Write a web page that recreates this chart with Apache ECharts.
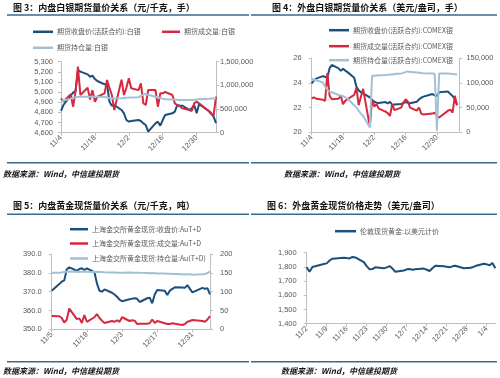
<!DOCTYPE html>
<html><head><meta charset="utf-8">
<script src="https://cdn.jsdelivr.net/npm/echarts@6/dist/echarts.min.js"></script>
<style>html,body{margin:0;padding:0;background:#fff}#c{width:500px;height:378px}</style>
</head><body><div id="c"></div>
<script>
// ---------- DATA ----------
// Fig 3: SHFE silver (内盘白银)
const shfeDates = ['11/4','11/5','11/8','11/9','11/10','11/11','11/12','11/15','11/16','11/17','11/18','11/19','11/22','11/23','11/24','11/25','11/26','11/29','11/30','12/1','12/2','12/3','12/6','12/7','12/8','12/9','12/10','12/13','12/14','12/15','12/16','12/17','12/20','12/21','12/22','12/23','12/24','12/27','12/28','12/29','12/30','12/31','1/4','1/5','1/6','1/7'];
const shfeClose = [4814,4873,4965,4995,5011,5218,5202,5175,5152,5162,5129,5110,5077,5077,4906,4866,4873,4824,4791,4725,4709,4715,4725,4715,4692,4676,4610,4692,4709,4669,4725,4774,4791,4807,4873,4866,4866,4824,4840,4873,4791,4880,4814,4791,4758,4695];
const shfeVolume = [726000,655000,811000,549000,867000,1395000,796000,950000,700000,900000,655000,760000,831000,1113000,950000,796000,480000,1120000,796000,950000,1150000,938000,900000,1043000,621000,585000,902000,902000,549000,831000,831000,860000,796000,620000,585000,560000,514000,480000,459000,621000,655000,621000,459000,400000,359000,760000];
const shfeOI = [655000,680000,720000,735000,748000,755000,760000,760000,758000,755000,760000,760000,752000,745000,735000,727000,725000,730000,735000,740000,742000,745000,748000,780000,805000,818000,800000,760000,745000,735000,720000,705000,700000,698000,695000,692000,690000,690000,692000,695000,700000,705000,715000,720000,722000,726000];
const shfeTicks = ['11/4','11/18','12/2','12/16','12/30'];

// Fig 4: COMEX silver (外盘白银)
const comexDates = ['11/4','11/5','11/6','11/9','11/10','11/11','11/12','11/13','11/16','11/17','11/18','11/19','11/20','11/23','11/24','11/25','11/26','11/27','11/30','12/1','12/2','12/3','12/4','12/7','12/8','12/9','12/10','12/11','12/14','12/15','12/16','12/17','12/18','12/21','12/22','12/23','12/24','12/28','12/29','12/30','12/31','1/4','1/5','1/6','1/7','1/8'];
const comexClose = [23.97,24.2,24.35,24.55,24.5,24.45,25.2,25.46,25.19,24.98,25.15,25.0,24.88,24.42,23.7,23.4,23.25,23.15,22.84,22.62,22.48,22.4,22.37,22.45,22.35,22.48,22.21,22.25,22.3,22.38,22.45,22.4,22.35,22.48,22.67,22.8,22.89,23.1,23.0,22.95,23.25,23.3,23.1,22.95,22.7,22.2];
const comexVolume = [68700,70800,68000,65800,63700,120000,74200,67000,68000,74000,57000,63700,67000,76000,90000,55000,72000,88000,11000,67000,52000,57000,48000,42000,39000,33000,57000,45000,50000,60000,67000,62000,50000,44000,50000,38000,36000,38000,40000,32000,30000,44000,46000,40000,74000,55000];
const comexOI = [108900,106500,105400,101000,93000,86000,82500,81200,75600,74500,73000,71000,68000,55000,50000,44000,38000,33000,10000,114600,114500,115000,115500,116000,116500,117000,117300,118000,119400,120500,122000,123500,122000,121000,120500,120000,119800,119400,118500,3000,119400,119000,118500,118000,117800,117000];
const comexTicks = ['11/4','11/18','12/2','12/16','12/30'];

// Fig 5: SGE gold Au(T+D) (内盘黄金现货)
const sgeDates = ['11/5','11/8','11/9','11/10','11/11','11/12','11/15','11/16','11/17','11/18','11/19','11/22','11/23','11/24','11/25','11/26','11/29','11/30','12/1','12/2','12/3','12/6','12/7','12/8','12/9','12/10','12/13','12/14','12/15','12/16','12/17','12/20','12/21','12/22','12/23','12/24','12/27','12/28','12/29','12/30','12/31','1/4','1/5','1/6','1/7'];
const sgeClose = [370.5,374,375.3,376,381.9,382.9,381.1,382,382.4,381.5,382.4,380.4,374.4,370.5,370,371.2,369.4,368.5,367.3,365.8,364.9,366,366.3,366.5,366.2,364.5,366.5,366.8,363.8,368.5,370.9,370.5,368.2,370.5,371.5,372.3,372.2,372,373.5,371.5,369.6,372,371.5,371.8,368.5];
const sgeVolume = [35.3,34.8,30,18,26,55,27,29,17,38,20,32,40.6,30,23,16.7,22,20,24,20,32,22,24,23,14,15,15,16,26,17,22,16,14,14,16,15,11.4,14,20,22,24.7,22,20,26,35];
const sgeOI = [150,150.5,151,152,153,153.5,153,152.5,153,153.5,153,152,153,152.5,152,151.5,151,151,150.5,150,150.5,151,150.5,150,150.5,150,149.5,149,149.5,149,148.5,148,147.5,147.5,147,147,146,145.5,146.5,146,145,146.5,147,149.5,154];
const sgeTicks = ['11/5','11/19','12/3','12/17','12/31'];

// Fig 6: London spot gold (外盘黄金现货)
const lbmaDates = ['11/2','11/3','11/4','11/5','11/8','11/9','11/10','11/11','11/12','11/15','11/16','11/17','11/18','11/19','11/22','11/23','11/24','11/25','11/26','11/29','11/30','12/1','12/2','12/3','12/6','12/7','12/8','12/9','12/10','12/13','12/14','12/15','12/16','12/17','12/20','12/21','12/22','12/23','12/24','12/27','12/28','12/29','12/30','12/31','1/3','1/4','1/5','1/6','1/7'];
const lbmaGold = [1797,1766,1799,1804,1820,1825,1845,1858,1860,1865,1862,1860,1870,1867,1834,1806,1783,1785,1797,1790,1797,1806,1788,1766,1775,1783,1785,1780,1783,1788,1780,1771,1790,1808,1804,1801,1797,1804,1808,1790,1792,1792,1797,1806,1822,1818,1812,1828,1790];
const lbmaTicks = ['11/2','11/9','11/16','11/23','11/30','12/7','12/14','12/21','12/28','1/4'];

// ---------- HELPERS ----------
const NUMF = '"Liberation Sans", Arial, "Noto Sans CJK SC", sans-serif';
const CJK = '"Noto Sans CJK SC", sans-serif';
const C_DARK = '#1b4f7c', C_RED = '#d8283f', C_LIGHT = '#a2c1d6';
const AX = '#bfbfbf', LC = '#595959';
function parseMD(s){const p=s.split('/').map(Number);const y=p[0]>=10?2021:2022;return Date.UTC(y,p[0]-1,p[1]);}
function pairs(dates,start,vals){const b=parseMD(start);return vals.map((v,i)=>[Math.round((parseMD(dates[i])-b)/86400000),v]);}
const fmtK = v => v.toLocaleString('en-US');

function xAxis(gi,max,step,ticks){
  return {type:'value',gridIndex:gi,min:0,max:max,interval:step,
    axisLine:{show:true,lineStyle:{color:AX,width:1}},
    axisTick:{show:true,length:3,lineStyle:{color:AX}},
    splitLine:{show:false},
    axisLabel:{rotate:45,fontSize:7.5,color:LC,fontFamily:NUMF,margin:4,showMaxLabel:false,
      formatter:v=>(v%step===0&&ticks[v/step]!==undefined)?ticks[v/step]:''}};
}
function yAxis(gi,pos,min,max,step,fmt,margin){
  return {type:'value',gridIndex:gi,position:pos,min:min,max:max,interval:step,
    axisLine:{show:true,lineStyle:{color:AX,width:1}},
    axisTick:{show:true,length:3,lineStyle:{color:AX}},
    splitLine:{show:false},
    axisLabel:{fontSize:7.5,color:LC,fontFamily:NUMF,margin:margin,formatter:fmt}};
}
function line(name,xi,yi,data,color,w){
  return {name,type:'line',xAxisIndex:xi,yAxisIndex:yi,data,symbol:'none',showSymbol:false,
    color:color,lineStyle:{color:color,width:w||2},animation:false};
}
function leg(name,left,cy,w){
  return {data:[name],left:left,top:cy-5,padding:0,itemWidth:w||20,itemHeight:2.5,icon:'rect',
    selectedMode:false,textStyle:{fontSize:7,color:LC,fontFamily:CJK,padding:[0,0,0,-1]}};
}
function txt(t,x,y,font,fill){return {type:'text',x:x,y:y,style:{text:t,font:font,fill:fill||'#111',verticalAlign:'middle',align:'left'}};}
function hl(x1,x2,y){return {type:'line',shape:{x1:x1,y1:y,x2:x2,y2:y},style:{stroke:'#3a6a8c',lineWidth:1.5}};}

const TF = 'bold 9px "Noto Sans CJK SC", sans-serif';
const SF = 'italic bold 8px "Noto Sans CJK SC", sans-serif';

const chart = echarts.init(document.getElementById('c'),null,{renderer:'canvas'});
chart.setOption({
  animation:false,
  backgroundColor:'#fff',
  grid:[
    {left:61,top:61.7,width:155,height:71},
    {left:311.7,top:58.3,width:147.6,height:74},
    {left:51.7,top:254,width:158.3,height:75.3},
    {left:306.7,top:252.7,width:188.6,height:71}
  ],
  xAxis:[
    xAxis(0,64,14,shfeTicks),
    xAxis(1,66,14,comexTicks),
    xAxis(2,63,14,sgeTicks),
    xAxis(3,66,7,lbmaTicks)
  ],
  yAxis:[
    yAxis(0,'left',4600,5300,100,fmtK,8),
    yAxis(0,'right',0,1500000,500000,fmtK,4),
    yAxis(1,'left',20,26,2,v=>String(v),10),
    yAxis(1,'right',0,150000,50000,fmtK,7),
    yAxis(2,'left',350,390,10,v=>v.toFixed(1),10),
    yAxis(2,'right',0,200,50,v=>String(v),10),
    yAxis(3,'left',1400,1900,100,fmtK,10)
  ],
  legend:[
    leg('期货收盘价(活跃合约):白银',33,33.3),
    leg('期货成交量:白银',162,33.3,18),
    leg('期货持仓量:白银',33,49.3),
    leg('期货收盘价(活跃合约):COMEX银',329,31.7),
    leg('期货成交量(活跃合约):COMEX银',329,47.7),
    leg('期货持仓量(活跃合约):COMEX银',329,61.7),
    leg('上海金交所黄金现货:收盘价:AuT+D',70,230.7,18),
    leg('上海金交所黄金现货:成交量:AuT+D',70,245,18),
    leg('上海金交所黄金现货:持仓量:Au(T+D)',70,260,18),
    leg('伦敦现货黄金:以美元计价',335,232.7,21)
  ],
  series:[
    line('期货收盘价(活跃合约):白银',0,0,pairs(shfeDates,'11/4',shfeClose),C_DARK),
    line('期货成交量:白银',0,1,pairs(shfeDates,'11/4',shfeVolume),C_RED),
    line('期货持仓量:白银',0,1,pairs(shfeDates,'11/4',shfeOI),C_LIGHT),
    line('期货收盘价(活跃合约):COMEX银',1,2,pairs(comexDates,'11/4',comexClose),C_DARK),
    line('期货成交量(活跃合约):COMEX银',1,3,pairs(comexDates,'11/4',comexVolume),C_RED),
    line('期货持仓量(活跃合约):COMEX银',1,3,pairs(comexDates,'11/4',comexOI),C_LIGHT),
    line('上海金交所黄金现货:收盘价:AuT+D',2,4,pairs(sgeDates,'11/5',sgeClose),C_DARK),
    line('上海金交所黄金现货:成交量:AuT+D',2,5,pairs(sgeDates,'11/5',sgeVolume),C_RED),
    line('上海金交所黄金现货:持仓量:Au(T+D)',2,5,pairs(sgeDates,'11/5',sgeOI),C_LIGHT),
    line('伦敦现货黄金:以美元计价',3,6,pairs(lbmaDates,'11/2',lbmaGold),C_DARK)
  ],
  graphic:[
    txt('图 3：内盘白银期货量价关系（元/千克，手）',13,7.5,TF),
    txt('图 4：外盘白银期货量价关系（美元/盎司，手）',272,7.5,TF),
    txt('图 5：内盘黄金现货量价关系（元/千克，吨）',13,206,TF),
    txt('图 6：外盘黄金现货价格走势（美元/盎司）',267,205.5,TF),
    hl(7,249,15), hl(251,497,15),
    hl(7,249,214.3), hl(251,497,214.3),
    hl(7,249,162.7), hl(251,497,162.7),
    hl(7,249,361.7), hl(251,497,361.7),
    txt('数据来源：Wind，中信建投期货',3,173.5,SF),
    txt('数据来源：Wind，中信建投期货',284,173.5,SF),
    txt('数据来源：Wind，中信建投期货',3,370.5,SF),
    txt('数据来源：Wind，中信建投期货',281,371,SF)
  ]
});
</script></body></html>
